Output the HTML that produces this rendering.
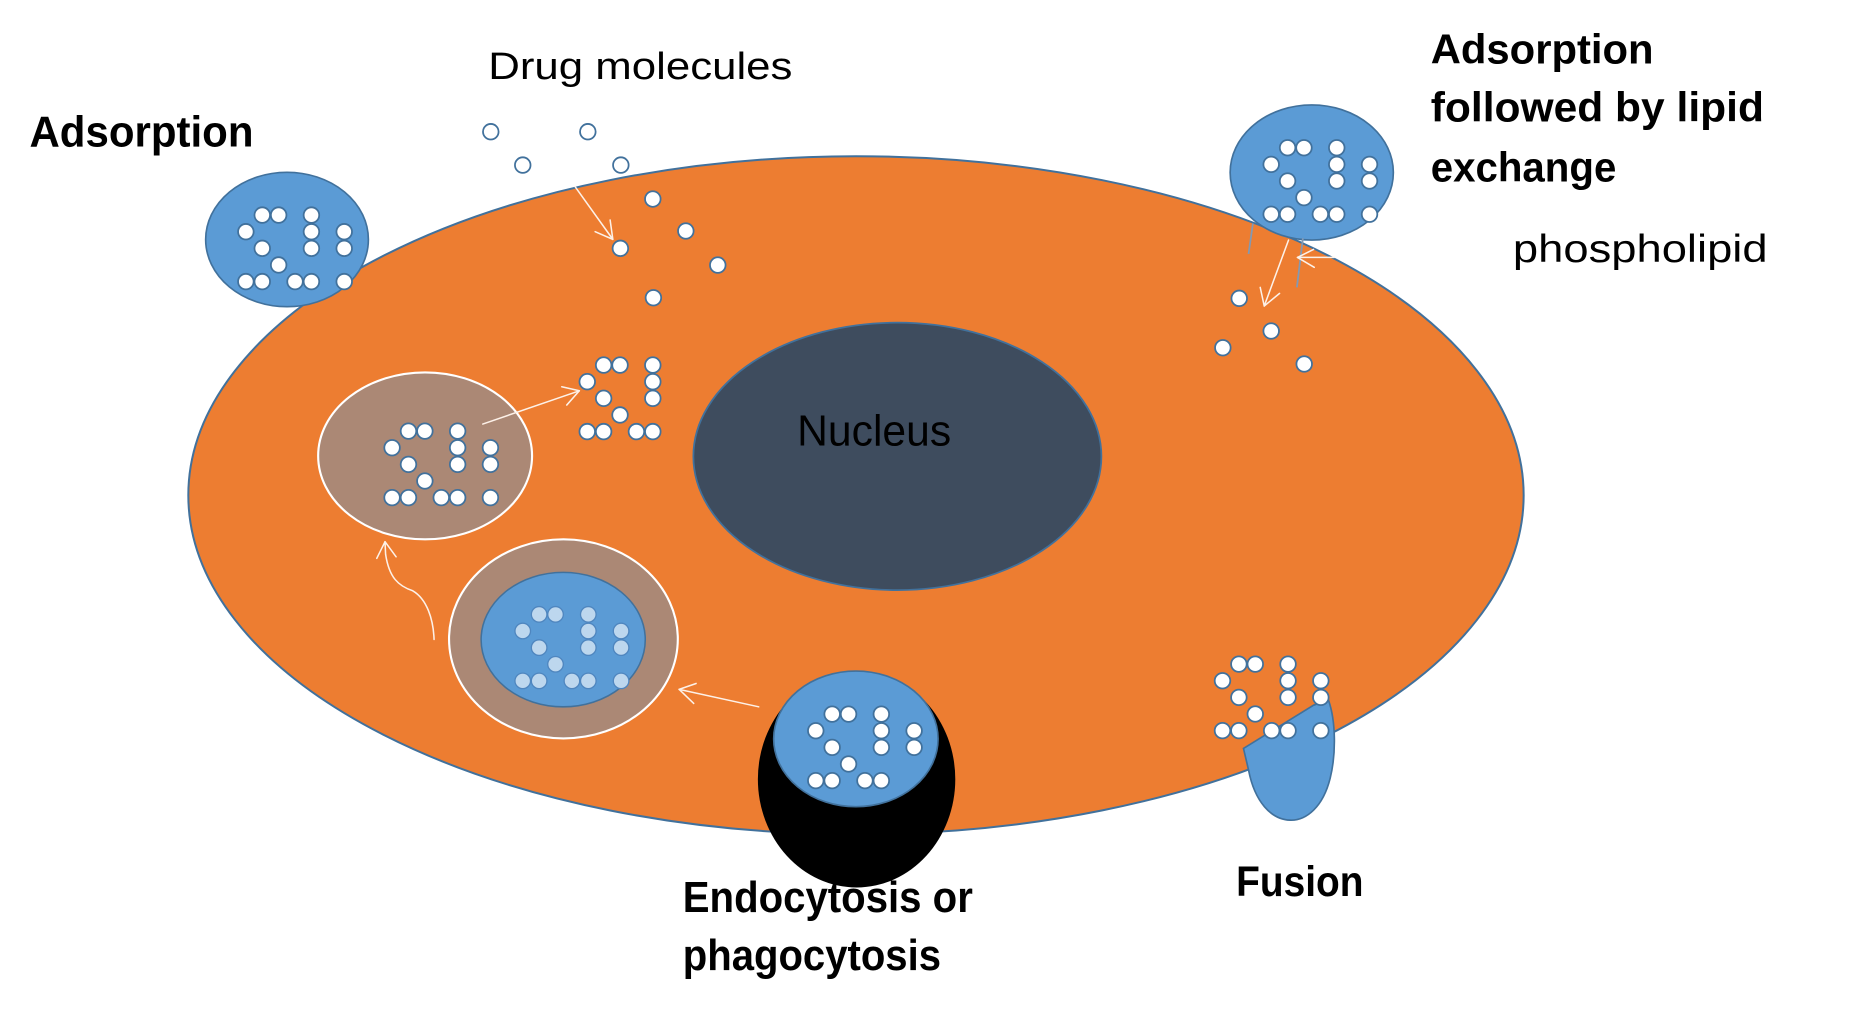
<!DOCTYPE html>
<html><head><meta charset="utf-8"><style>html,body{margin:0;padding:0;background:#fff;overflow:hidden}svg{display:block}</style></head>
<body>
<svg width="1849" height="1016" viewBox="0 0 1568 861.6" preserveAspectRatio="none" xmlns="http://www.w3.org/2000/svg">
<defs>
<g id="A">
<circle cx="13.9" cy="0" r="6.6"/><circle cx="27.8" cy="0" r="6.6"/><circle cx="55.6" cy="0" r="6.6"/>
<circle cx="0" cy="14.1" r="6.6"/><circle cx="55.6" cy="14.1" r="6.6"/>
<circle cx="13.9" cy="28.2" r="6.6"/><circle cx="55.6" cy="28.2" r="6.6"/>
<circle cx="27.8" cy="42.3" r="6.6"/>
<circle cx="0" cy="56.4" r="6.6"/><circle cx="13.9" cy="56.4" r="6.6"/><circle cx="41.7" cy="56.4" r="6.6"/><circle cx="55.6" cy="56.4" r="6.6"/>
</g>
<g id="C"><circle cx="83.4" cy="14.1" r="6.6"/><circle cx="83.4" cy="28.2" r="6.6"/></g>
<g id="D"><circle cx="83.4" cy="56.4" r="6.6"/></g>
<g id="F"><use href="#A"/><use href="#C"/><use href="#D"/></g>
</defs>

<!-- cell -->
<ellipse cx="725.9" cy="420" rx="566.2" ry="287.5" fill="#ED7D31" stroke="#41719C" stroke-width="1.7"/>
<!-- nucleus -->
<ellipse cx="761" cy="387" rx="173" ry="113.4" fill="#3E4C5E" stroke="#41719C" stroke-width="1.5"/>
<text x="676" y="378" font-family="Liberation Sans, sans-serif" font-size="37" fill="#000" textLength="130.6" lengthAdjust="spacingAndGlyphs">Nucleus</text>

<!-- left adsorption blob -->
<ellipse cx="243.4" cy="203.1" rx="69" ry="57" fill="#5B9BD5" stroke="#41719C" stroke-width="1.4"/>
<use href="#F" transform="translate(208.5,182.4)" fill="#fff" stroke="#41719C" stroke-width="1.5"/>

<!-- top right blob -->
<ellipse cx="1112.4" cy="146.3" rx="69.2" ry="57.3" fill="#5B9BD5" stroke="#41719C" stroke-width="1.4"/>
<use href="#F" transform="translate(1078,125.3)" fill="#fff" stroke="#41719C" stroke-width="1.5"/>

<!-- lysosome 1 -->
<ellipse cx="360.5" cy="386.6" rx="90.7" ry="70.8" fill="#AB8875" stroke="#fff" stroke-width="1.8"/>
<use href="#F" transform="translate(332.5,365.6)" fill="#fff" stroke="#41719C" stroke-width="1.5"/>

<!-- released cluster -->
<use href="#A" transform="translate(498,309.6)" fill="#fff" stroke="#41719C" stroke-width="1.5"/>

<!-- lysosome 2 -->
<ellipse cx="477.8" cy="541.8" rx="97" ry="84.4" fill="#AB8875" stroke="#fff" stroke-width="1.8"/>
<ellipse cx="477.6" cy="542.4" rx="69.6" ry="57" fill="#5B9BD5" stroke="#41719C" stroke-width="1.3"/>
<use href="#F" transform="translate(443.3,521)" fill="#BDD7EE" stroke="#4F86BF" stroke-width="1.1"/>

<!-- endocytosis -->
<ellipse cx="726.4" cy="660.8" rx="83.7" ry="91.8" fill="#000"/>
<ellipse cx="725.8" cy="626.6" rx="69.7" ry="57.5" fill="#5B9BD5" stroke="#41719C" stroke-width="1.4"/>
<use href="#A" transform="translate(691.8,605.6)" fill="#fff" stroke="#41719C" stroke-width="1.5"/>
<use href="#C" transform="translate(691.8,605.6)" fill="#fff" stroke="#41719C" stroke-width="1.5"/>

<!-- fusion -->
<path d="M1054.5,634.7 L1114,598 L1126.6,593.7 C1133,612 1133,640 1128,660 C1122,684 1108,696 1094,695.5 C1078,695 1064,680 1058.8,653 Z" fill="#5B9BD5" stroke="#41719C" stroke-width="1.4"/>
<use href="#F" transform="translate(1036.7,563.2)" fill="#fff" stroke="#41719C" stroke-width="1.5"/>

<!-- free drug molecules outside -->
<g fill="#fff" stroke="#41719C" stroke-width="1.5">
<circle cx="416.2" cy="111.7" r="6.6"/><circle cx="498.5" cy="111.7" r="6.6"/>
<circle cx="443.3" cy="140" r="6.6"/><circle cx="526.5" cy="140" r="6.6"/>
<!-- inside top -->
<circle cx="553.6" cy="168.8" r="6.6"/><circle cx="581.6" cy="195.9" r="6.6"/>
<circle cx="608.7" cy="224.8" r="6.6"/><circle cx="526.1" cy="210.6" r="6.6"/>
<circle cx="554.1" cy="252.5" r="6.6"/>
<!-- inside right -->
<circle cx="1050.9" cy="253" r="6.6"/><circle cx="1078" cy="280.7" r="6.6"/>
<circle cx="1037" cy="294.9" r="6.6"/><circle cx="1106" cy="308.7" r="6.6"/>
</g>

<!-- blue-grey lines (phospholipid) -->
<g stroke="#8299B3" stroke-width="1.5" fill="none">
<line x1="1062.5" y1="189.4" x2="1058.8" y2="215.4"/>
<line x1="1104.9" y1="202.1" x2="1099.8" y2="243.7"/>
</g>

<!-- white arrows -->
<g stroke="#FDF1E8" stroke-width="1.3" fill="none" stroke-linecap="round" stroke-linejoin="round">
<line x1="487.7" y1="158.3" x2="519.7" y2="203"/>
<polyline points="504.7,196.5 519.7,203 517.4,186.6"/>
<line x1="409.4" y1="359.6" x2="491.3" y2="331.4"/>
<polyline points="476.4,328 491.3,331.4 480.6,343.5"/>
<path d="M368.1,542.3 C367.5,525 362,508 350,501 C338,497 330,490 327,470 L326.5,459.4"/>
<polyline points="319.5,473.5 326.5,459.4 335.9,472.2"/>
<line x1="643.4" y1="599.4" x2="575.9" y2="584.6"/>
<polyline points="590.3,579.6 575.9,584.6 588.3,596.5"/>
<line x1="1092.7" y1="203.6" x2="1072.1" y2="259.5"/>
<polyline points="1068.7,243.7 1072.1,259.5 1085.1,248.8"/>
<line x1="1131.5" y1="218.3" x2="1100.3" y2="218.3"/>
<polyline points="1113.9,211.5 1100.3,218.3 1114.5,226.7"/>
</g>

<!-- labels -->
<g font-family="Liberation Sans, sans-serif" fill="#000">
<text x="25" y="124.4" font-size="37" font-weight="bold" textLength="190" lengthAdjust="spacingAndGlyphs">Adsorption</text>
<text x="414" y="67" font-size="32.5" textLength="258" lengthAdjust="spacingAndGlyphs">Drug molecules</text>
<text x="1213.3" y="53.7" font-size="35.5" font-weight="bold" textLength="189" lengthAdjust="spacingAndGlyphs">Adsorption</text>
<text x="1213.3" y="103.2" font-size="35.5" font-weight="bold" textLength="282.6" lengthAdjust="spacingAndGlyphs">followed by lipid</text>
<text x="1213.3" y="154.1" font-size="35.5" font-weight="bold" textLength="157.4" lengthAdjust="spacingAndGlyphs">exchange</text>
<text x="1283" y="222" font-size="33" textLength="216" lengthAdjust="spacingAndGlyphs">phospholipid</text>
<text x="579" y="773.3" font-size="37" font-weight="bold" textLength="246" lengthAdjust="spacingAndGlyphs">Endocytosis or</text>
<text x="579" y="822.7" font-size="37" font-weight="bold" textLength="219" lengthAdjust="spacingAndGlyphs">phagocytosis</text>
<text x="1048.3" y="760" font-size="36.5" font-weight="bold" textLength="108" lengthAdjust="spacingAndGlyphs">Fusion</text>
</g>
</svg>
</body></html>
